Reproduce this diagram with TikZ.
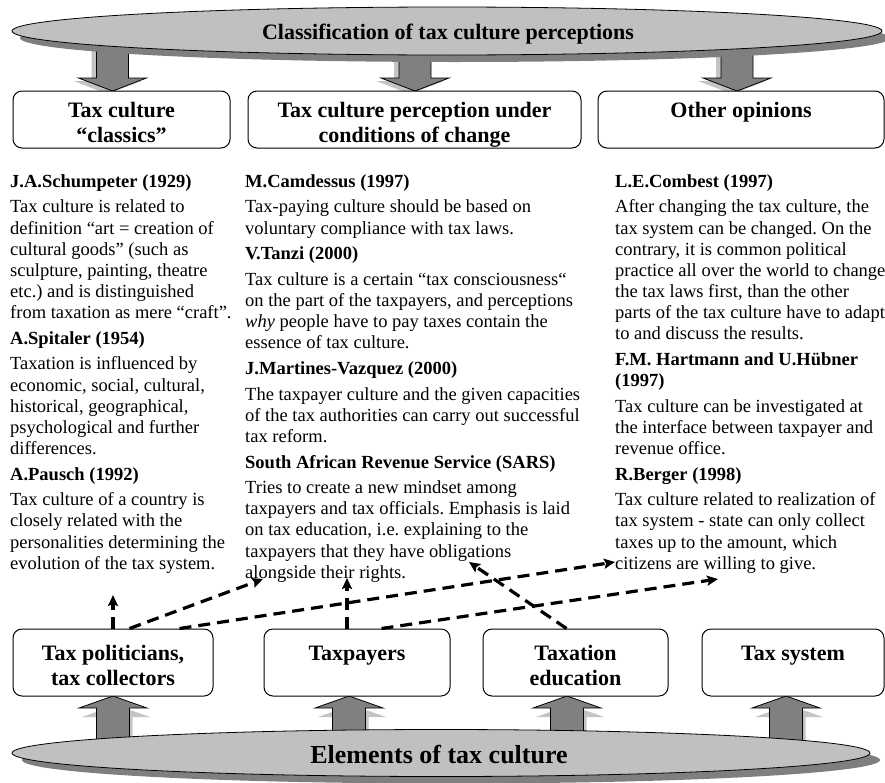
\documentclass[tikz,border=0pt]{standalone}
\usepackage{fontspec}
\setmainfont{Liberation Serif}
\usetikzlibrary{arrows.meta,calc,shapes.geometric}

\definecolor{ellfill}{HTML}{C0C0C0}
\definecolor{ellshade}{HTML}{7F7F7F}
\definecolor{arrfill}{HTML}{808080}
\definecolor{arrshade}{HTML}{C4C4C4}

\frenchspacing
\newcommand\firstline{\rule{0pt}{14pt}}

\tikzset{
  labelbox/.style={draw=black, line width=1pt, fill=white, rounded corners=9pt, inner sep=0pt},
  boxtext/.style={font=\fontsize{22}{25}\selectfont\bfseries, align=center, inner sep=0pt},
  coltext/.style={font=\fontsize{18.5}{21.15}\selectfont\frenchspacing, align=left, anchor=north west, inner sep=0pt},
  plate/.style={ellipse, inner sep=0pt, fill=ellfill, draw=black, line width=0.8pt},
  plateshade/.style={ellipse, inner sep=0pt, fill=ellshade},
  hint/.style={line width=3.2pt, dash pattern=on 12pt off 7pt, -{Stealth[length=11pt,width=10pt,inset=2pt]}},
  pushdown/.pic={
    \fill[arrshade, shift={(-5,3)}] (0,0) -- (-34,-13) -- (-16,-13) -- (-16,-50) -- (16,-50) -- (16,-13) -- (34,-13) -- cycle;
    \filldraw[fill=arrfill, draw=black, line width=0.8pt] (0,0) -- (-34,-13) -- (-16,-13) -- (-16,-50) -- (16,-50) -- (16,-13) -- (34,-13) -- cycle;
  },
  pushup/.pic={
    \fill[arrshade, shift={(3,9)}] (0,0) -- (34,12) -- (16.5,12) -- (16.5,55) -- (-16.5,55) -- (-16.5,12) -- (-34,12) -- cycle;
    \filldraw[fill=arrfill, draw=black, line width=0.8pt] (0,0) -- (34,12) -- (16.5,12) -- (16.5,55) -- (-16.5,55) -- (-16.5,12) -- (-34,12) -- cycle;
  }
}

\begin{document}
\begin{tikzpicture}[x=1pt,y=-1pt]
\useasboundingbox (0,0) rectangle (885,782);
\clip (0,0) rectangle (885,782);

% block arrows from the classification plate down to the three groups
\pic at (112.5,91) {pushdown};
\pic at (415,91) {pushdown};
\pic at (737,91) {pushdown};

% block arrows from the elements plate up to the four elements
\pic at (113,696) {pushup};
\pic at (349,696) {pushup};
\pic at (567,696) {pushup};
\pic at (786,696) {pushup};

% top plate
\node[plateshade, minimum width=870, minimum height=48] (clsshade) at (455,38) {};
\node[plate, minimum width=870, minimum height=48] (cls) at (447,31) {};
\node[font=\fontsize{22}{25}\selectfont\bfseries, anchor=base, inner sep=0pt] (clstitle) at (448,39) {Classification of tax culture perceptions};

% bottom plate
\node[plateshade, minimum width=858, minimum height=47] (elshade) at (451,760) {};
\node[plate, minimum width=858, minimum height=47] (el) at (441,753) {};
\node[font=\fontsize{26}{30}\selectfont\bfseries, anchor=base, inner sep=0pt] (eltitle) at (439,763) {Elements of tax culture};

% group boxes
\node[labelbox, minimum width=217, minimum height=57] (c1) at (121.5,119.5) {};
\node[labelbox, minimum width=333, minimum height=57] (c2) at (414.5,119.5) {};
\node[labelbox, minimum width=286, minimum height=57] (c3) at (741,119.5) {};
\node[boxtext, anchor=north] (c1t) at (121.5,102) {Tax culture\\“classics”};
\node[boxtext, anchor=north] (c2t) at (414.5,102) {Tax culture perception under\\conditions of change};
\node[boxtext, anchor=base] (c3t) at (741,117) {Other opinions};

% element boxes
\node[labelbox, minimum width=200, minimum height=67] (b1) at (113,662.5) {};
\node[labelbox, minimum width=186, minimum height=67] (b2) at (357,662.5) {};
\node[labelbox, minimum width=185, minimum height=67] (b3) at (575.5,662.5) {};
\node[labelbox, minimum width=182, minimum height=67] (b4) at (793,662.5) {};
\node[boxtext, anchor=north] (b1t) at (113,645) {Tax politicians,\\tax collectors};
\node[boxtext, anchor=base] (b2t) at (357,660) {Taxpayers};
\node[boxtext, anchor=north] (b3t) at (575.5,645) {Taxation\\education};
\node[boxtext, anchor=base] (b4t) at (793,660) {Tax system};

% three columns of opinions
\node[coltext] (col1) at (10,173) {\firstline\textbf{J.A.Schumpeter (1929)}\\[4.5pt]
Tax culture is related to\\
definition “art = creation of\\
cultural goods” (such as\\
sculpture, painting, theatre\\
etc.) and is distinguished\\
from taxation as mere “craft”.\\[4.5pt]
\textbf{A.Spitaler (1954)}\\[4.5pt]
Taxation is influenced by\\
economic, social, cultural,\\
historical, geographical,\\
psychological and further\\
differences.\\[4.5pt]
\textbf{A.Pausch (1992)}\\[4.5pt]
Tax culture of a country is\\
closely related with the\\
personalities determining the\\
evolution of the tax system.};

\node[coltext] (col2) at (245,173) {\firstline\textbf{M.Camdessus (1997)}\\[4.5pt]
Tax-paying culture should be based on\\
voluntary compliance with tax laws.\\[4.5pt]
\textbf{V.Tanzi (2000)}\\[4.5pt]
Tax culture is a certain “tax consciousness“\\
on the part of the taxpayers, and perceptions\\
\textit{why} people have to pay taxes contain the\\
essence of tax culture.\\[4.5pt]
\textbf{J.Martines-Vazquez (2000)}\\[4.5pt]
The taxpayer culture and the given capacities\\
of the tax authorities can carry out successful\\
tax reform.\\[4.5pt]
\textbf{South African Revenue Service (SARS)}\\[4.5pt]
Tries to create a new mindset among\\
taxpayers and tax officials. Emphasis is laid\\
on tax education, i.e. explaining to the\\
taxpayers that they have obligations\\
alongside their rights.};

\node[coltext] (col3) at (615,173) {\firstline\textbf{L.E.Combest (1997)}\\[4.5pt]
After changing the tax culture, the\\
tax system can be changed. On the\\
contrary, it is common political\\
practice all over the world to change\\
the tax laws first, than the other\\
parts of the tax culture have to adapt\\
to and discuss the results.\\[4.5pt]
\textbf{F.M. Hartmann and U.Hübner}\\
\textbf{(1997)}\\[4.5pt]
Tax culture can be investigated at\\
the interface between taxpayer and\\
revenue office.\\[4.5pt]
\textbf{R.Berger (1998)}\\[4.5pt]
Tax culture related to realization of\\
tax system - state can only collect\\
taxes up to the amount, which\\
citizens are willing to give.};

% free ends of the influence arrows
\coordinate (t1) at (113,595);
\coordinate (t2) at (263,579);
\coordinate (t3) at (615,562);
\coordinate (t4) at (347,578);
\coordinate (t5) at (718,579);
\coordinate (t6) at (469,562);

% influence arrows from the elements to the opinions
\draw[hint] (b1.north -| t1) -- (t1);
\draw[hint] ($(b1.north west)+(117,0)$) -- (t2);
\draw[hint] ($(b1.north west)+(167,0)$) -- (t3);
\draw[hint] (b2.north -| t4) -- (t4);
\draw[hint] ($(b2.north west)+(118,0)$) -- (t5);
\draw[hint] ($(b3.north west)+(84,0)$) -- (t6);
\end{tikzpicture}
\end{document}
